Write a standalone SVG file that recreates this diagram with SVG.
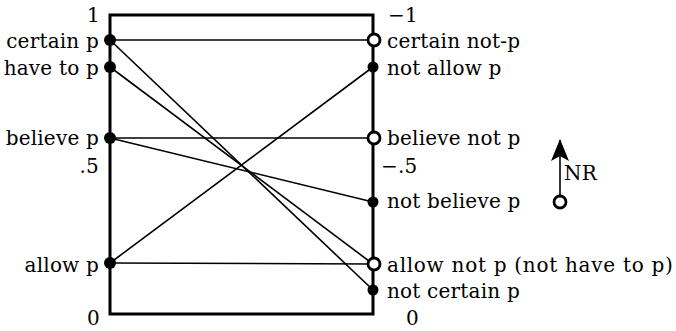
<svg xmlns="http://www.w3.org/2000/svg" width="676" height="331" viewBox="0 0 676 331">
<style>
text{font-family:"DejaVu Serif","Liberation Serif",serif;font-size:20px;fill:#000;letter-spacing:0.2px}
.l{text-anchor:end}
.frame{fill:none;stroke:#000;stroke-width:3}
.c{stroke:#000;stroke-width:1.6;fill:none}
.f{fill:#000}
.o{fill:#fff;stroke:#000;stroke-width:2.8}
</style>
<defs>
<marker id="ah" markerWidth="24" markerHeight="20" refX="22" refY="10" orient="auto" markerUnits="userSpaceOnUse" viewBox="0 0 24 20">
<path d="M23 10 L1 1 L6 10 L1 19 Z" fill="#000"/>
</marker>
</defs>
<g id="frame"><rect class="frame" x="110" y="15" width="263" height="299"/></g>
<g id="connectors">
<line class="c" x1="110" y1="40" x2="373" y2="40"/>
<line class="c" x1="110" y1="40" x2="373" y2="290"/>
<line class="c" x1="110" y1="67" x2="373" y2="264"/>
<line class="c" x1="110" y1="138" x2="373" y2="138"/>
<line class="c" x1="110" y1="138" x2="373" y2="202"/>
<line class="c" x1="110" y1="263" x2="373" y2="67"/>
<line class="c" x1="110" y1="263" x2="373" y2="264"/>
</g>
<g id="axis-labels">
<text class="l" x="100" y="22">1</text>
<text class="l" x="99" y="173">.5</text>
<text class="l" x="100" y="325">0</text>
<text x="388" y="22">−1</text>
<text x="381" y="173">−.5</text>
<text x="406" y="325">0</text>
</g>
<g id="n-certain-p"><circle class="f" cx="110" cy="40" r="6"/><text class="l" x="99" y="48">certain p</text></g>
<g id="n-have-to-p"><circle class="f" cx="110" cy="67" r="6"/><text class="l" x="99" y="75">have to p</text></g>
<g id="n-believe-p"><circle class="f" cx="110" cy="138" r="6"/><text class="l" x="99" y="145">believe p</text></g>
<g id="n-allow-p"><circle class="f" cx="110" cy="263" r="6"/><text class="l" x="99" y="272">allow p</text></g>
<g id="n-certain-not-p"><circle class="o" cx="374" cy="40" r="6"/><text x="387" y="48">certain not-p</text></g>
<g id="n-not-allow-p"><circle class="f" cx="373" cy="67" r="5.5"/><text x="387" y="75">not allow p</text></g>
<g id="n-believe-not-p"><circle class="o" cx="374" cy="138" r="6"/><text x="387" y="145">believe not p</text></g>
<g id="n-not-believe-p"><circle class="f" cx="373" cy="202" r="5.5"/><text x="387" y="208">not believe p</text></g>
<g id="n-allow-not-p"><circle class="o" cx="374" cy="264" r="6"/><text x="387" y="272" textLength="286" lengthAdjust="spacing">allow not p (not have to p)</text></g>
<g id="n-not-certain-p"><circle class="f" cx="373" cy="290" r="5.5"/><text x="387" y="298">not certain p</text></g>
<g id="nr-legend">
<line class="c" x1="560" y1="196" x2="560" y2="140" stroke-width="2" marker-end="url(#ah)"/>
<circle class="o" cx="560" cy="202" r="6"/>
<text x="564" y="180">NR</text>
</g>
</svg>
